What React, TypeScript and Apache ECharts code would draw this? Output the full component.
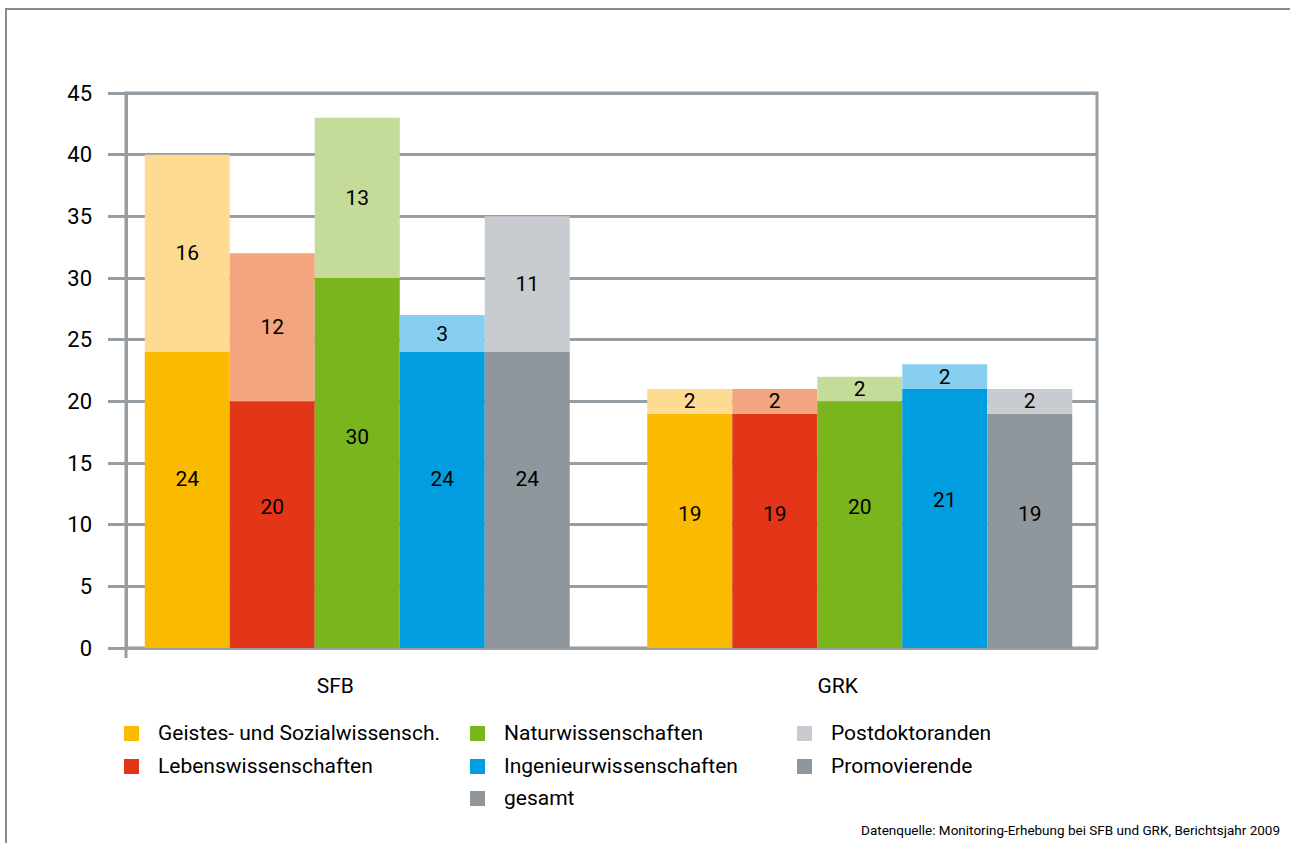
import React, { useEffect, useRef } from "react";
import * as echarts from "echarts";

// Gruppen auf der x-Achse
const categories = ["SFB", "GRK"];

// Wissenschaftsbereiche (Reihenfolge der Balken innerhalb einer Gruppe)
const fields = [
  "Geistes- und Sozialwissensch.",
  "Lebenswissenschaften",
  "Naturwissenschaften",
  "Ingenieurwissenschaften",
  "gesamt",
];

// Promovierende (unteres Segment) je Bereich: [SFB, GRK]
const promovierende = [
  [24, 19],
  [20, 19],
  [30, 20],
  [24, 21],
  [24, 19],
];

// Postdoktoranden (oberes Segment) je Bereich: [SFB, GRK]
const postdoktoranden = [
  [16, 2],
  [12, 2],
  [13, 2],
  [3, 2],
  [11, 2],
];

// Farben: kräftig für Promovierende, hell für Postdoktoranden
const darkColors = ["#F9BA00", "#E33518", "#7AB51D", "#009EE0", "#8F979D"];
const lightColors = ["#FDDB92", "#F2A57F", "#C5DB9A", "#87CFF0", "#C8CCD0"];

const yTicks = { min: 0, max: 45, interval: 5 };

const FONT = "'Roboto', 'Liberation Sans', sans-serif";
const GRID_COLOR = "#979EA3";

export default function App() {
  const ref = useRef<HTMLDivElement>(null);

  useEffect(() => {
    document.body.style.margin = "0";
    if (!ref.current) return;
    const chart = echarts.init(ref.current, undefined, { renderer: "svg" });

    const baseLabel = {
      show: true,
      color: "#000",
      fontSize: 21,
      fontFamily: FONT,
    };

    const series: any[] = [];
    fields.forEach((f, i) => {
      series.push({
        name: f,
        type: "bar",
        stack: "s" + i,
        xAxisIndex: 1,
        yAxisIndex: 1,
        barWidth: 85,
        barGap: "0%",
        itemStyle: { color: darkColors[i] },
        label: {
          ...baseLabel,
          position: ["50%", "43%"],
          align: "center",
          verticalAlign: "middle",
        },
        data: promovierende[i],
      });
      series.push({
        name: f + " (Postdoc)",
        type: "bar",
        stack: "s" + i,
        xAxisIndex: 1,
        yAxisIndex: 1,
        barWidth: 85,
        barGap: "0%",
        itemStyle: { color: lightColors[i] },
        label: { ...baseLabel, position: "inside" },
        data: postdoktoranden[i],
      });
    });

    // Legende: drei Spalten aus Quadrat + Text
    const legendItems = [
      { x: 124, y: 733, color: darkColors[0], text: fields[0] },
      { x: 124, y: 766, color: darkColors[1], text: fields[1] },
      { x: 470, y: 733, color: darkColors[2], text: fields[2] },
      { x: 470, y: 766, color: darkColors[3], text: fields[3] },
      { x: 470, y: 798, color: darkColors[4], text: fields[4] },
      { x: 797, y: 733, color: lightColors[4], text: "Postdoktoranden" },
      { x: 797, y: 766, color: darkColors[4], text: "Promovierende" },
    ];
    const legendGraphics: any[] = [];
    legendItems.forEach((it) => {
      legendGraphics.push({
        type: "rect",
        shape: { x: it.x, y: it.y - 7, width: 15, height: 15 },
        style: { fill: it.color },
      });
      legendGraphics.push({
        type: "text",
        x: it.x + 34,
        y: it.y,
        style: {
          text: it.text,
          fill: "#000",
          fontSize: 21,
          fontFamily: FONT,
          verticalAlign: "middle",
          align: "left",
        },
      });
    });

    chart.setOption({
      animation: false,
      textStyle: { fontFamily: FONT },
      grid: [
        // Rahmen, Gitterlinien und y-Achse
        {
          left: 126,
          right: 193,
          top: 93,
          bottom: 195,
          show: true,
          borderColor: GRID_COLOR,
          borderWidth: 3,
        },
        // Balkenbereich
        { left: 106, right: 179, top: 93, bottom: 195 },
      ],
      xAxis: [
        { gridIndex: 0, type: "value", min: 0, max: 1, show: false },
        {
          gridIndex: 1,
          type: "category",
          data: categories,
          axisLine: { show: false },
          axisTick: { show: false },
          axisLabel: {
            color: "#000",
            fontSize: 21,
            fontFamily: FONT,
            margin: 27,
            formatter: (v: string) => `{a|${v}}`,
            rich: { a: { fontSize: 21, fontFamily: FONT, color: "#000", padding: [0, 44, 0, 0] } },
          },
        },
      ],
      yAxis: [
        {
          gridIndex: 0,
          type: "value",
          min: yTicks.min,
          max: yTicks.max,
          interval: yTicks.interval,
          axisLine: { show: true, lineStyle: { color: GRID_COLOR, width: 3 } },
          axisTick: { show: true, length: 18, lineStyle: { color: GRID_COLOR, width: 3 } },
          splitLine: { show: true, lineStyle: { color: GRID_COLOR, width: 3 } },
          axisLabel: { color: "#000", fontSize: 22, fontFamily: FONT, margin: 34 },
        },
        {
          gridIndex: 1,
          type: "value",
          min: yTicks.min,
          max: yTicks.max,
          interval: yTicks.interval,
          show: false,
        },
      ],
      series,
      graphic: [
        // Rahmen oben und links
        {
          type: "line",
          shape: { x1: 5, y1: 9, x2: 1290, y2: 9 },
          style: { stroke: "#8a8a8a", lineWidth: 2 },
        },
        {
          type: "line",
          shape: { x1: 6, y1: 9, x2: 6, y2: 843 },
          style: { stroke: "#8a8a8a", lineWidth: 2 },
        },
        // Verlängerung der y-Achse unter die Nulllinie
        {
          type: "line",
          shape: { x1: 126, y1: 648, x2: 126, y2: 658 },
          style: { stroke: GRID_COLOR, lineWidth: 3 },
        },
        ...legendGraphics,
        {
          type: "text",
          right: 10,
          y: 823,
          style: {
            text: "Datenquelle: Monitoring-Erhebung bei SFB und GRK, Berichtsjahr 2009",
            fill: "#000",
            fontSize: 13.5,
            fontFamily: FONT,
          },
        },
      ],
    });

    return () => chart.dispose();
  }, []);

  return <div ref={ref} style={{ width: 1290, height: 843 }} />;
}
